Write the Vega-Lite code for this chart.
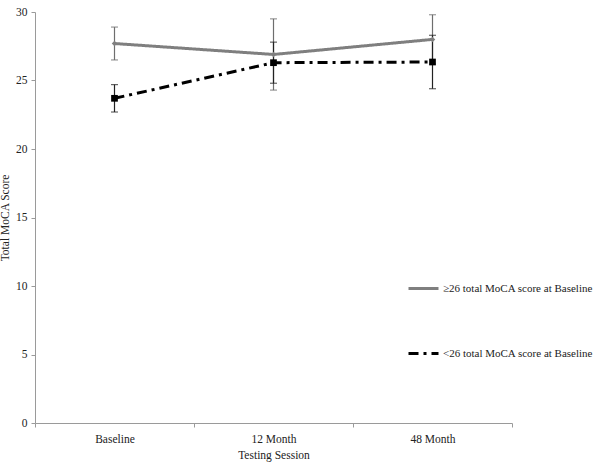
{
  "$schema": "https://vega.github.io/schema/vega-lite/v6.json",
  "width": 477,
  "height": 411,
  "autosize": {"type": "none"},
  "padding": {"left": 35, "top": 12, "right": 88, "bottom": 40},
  "background": "white",
  "config": {
    "view": {"stroke": null},
    "font": "Liberation Serif, serif",
    "axis": {"labelFont": "Liberation Serif, serif", "titleFont": "Liberation Serif, serif", "labelFontSize": 11.5, "titleFontSize": 11.5, "titleFontWeight": "normal", "labelColor": "#222", "titleColor": "#222", "domainColor": "#9a9a9a", "tickColor": "#9a9a9a", "grid": false},
    "legend": {"labelFont": "Liberation Serif, serif", "labelFontSize": 11, "labelColor": "#222"}
  },
  "data": {"values": [
    {"series": "≥26 total MoCA score at Baseline", "session": "Baseline", "mean": 27.7, "lo": 26.5, "hi": 28.9},
    {"series": "≥26 total MoCA score at Baseline", "session": "12 Month", "mean": 26.9, "lo": 24.3, "hi": 29.5},
    {"series": "≥26 total MoCA score at Baseline", "session": "48 Month", "mean": 28.0, "lo": 26.2, "hi": 29.8},
    {"series": "<26 total MoCA score at Baseline", "session": "Baseline", "mean": 23.7, "lo": 22.7, "hi": 24.7},
    {"series": "<26 total MoCA score at Baseline", "session": "12 Month", "mean": 26.3, "lo": 24.8, "hi": 27.8},
    {"series": "<26 total MoCA score at Baseline", "session": "48 Month", "mean": 26.35, "lo": 24.4, "hi": 28.3}
  ]},
  "encoding": {
    "x": {"field": "session", "type": "nominal", "sort": ["Baseline", "12 Month", "48 Month"], "scale": {"paddingInner": 0, "paddingOuter": 0},
      "axis": {"title": "Testing Session", "labelAngle": 0, "tickBand": "extent", "tickSize": 4, "labelPadding": 6, "titlePadding": 5}}
  },
  "layer": [
    {
      "transform": [{"filter": "datum.series === '≥26 total MoCA score at Baseline'"}],
      "layer": [
        {"mark": {"type": "rule", "strokeWidth": 1.2, "color": "#6e6e6e"}, "encoding": {"y": {"field": "lo", "type": "quantitative"}, "y2": {"field": "hi"}}},
        {"mark": {"type": "tick", "orient": "horizontal", "size": 7, "thickness": 1.2, "color": "#6e6e6e"}, "encoding": {"y": {"field": "lo", "type": "quantitative"}}},
        {"mark": {"type": "tick", "orient": "horizontal", "size": 7, "thickness": 1.2, "color": "#6e6e6e"}, "encoding": {"y": {"field": "hi", "type": "quantitative"}}}
      ]
    },
    {
      "transform": [{"filter": "datum.series === '<26 total MoCA score at Baseline'"}],
      "layer": [
        {"mark": {"type": "rule", "strokeWidth": 1.2, "color": "#222222"}, "encoding": {"y": {"field": "lo", "type": "quantitative"}, "y2": {"field": "hi"}}},
        {"mark": {"type": "tick", "orient": "horizontal", "size": 7, "thickness": 1.2, "color": "#222222"}, "encoding": {"y": {"field": "lo", "type": "quantitative"}}},
        {"mark": {"type": "tick", "orient": "horizontal", "size": 7, "thickness": 1.2, "color": "#222222"}, "encoding": {"y": {"field": "hi", "type": "quantitative"}}}
      ]
    },
    {
      "mark": {"type": "line", "strokeWidth": 3},
      "encoding": {
        "y": {"field": "mean", "type": "quantitative", "scale": {"domain": [0, 30]}, "axis": {"title": "Total MoCA Score", "values": [0, 5, 10, 15, 20, 25, 30], "tickSize": 4, "labelPadding": 4, "titlePadding": 5}},
        "color": {"field": "series", "type": "nominal", "scale": {"domain": ["≥26 total MoCA score at Baseline", "<26 total MoCA score at Baseline"], "range": ["#7f7f7f", "#000000"]},
          "legend": {"title": null, "orient": "none", "legendX": 372, "legendY": 260, "symbolType": "stroke", "symbolSize": 900, "symbolStrokeWidth": 3, "rowPadding": 42, "labelOffset": 3, "labelLimit": 300}},
        "strokeDash": {"field": "series", "type": "nominal", "scale": {"domain": ["≥26 total MoCA score at Baseline", "<26 total MoCA score at Baseline"], "range": [[1, 0], [10, 5, 3, 5]]},
          "legend": {"title": null, "orient": "none", "legendX": 372, "legendY": 260, "symbolType": "stroke", "symbolSize": 900, "symbolStrokeWidth": 3, "rowPadding": 42, "labelOffset": 3, "labelLimit": 300}}
      }
    },
    {
      "transform": [{"filter": "datum.series === '≥26 total MoCA score at Baseline'"}],
      "mark": {"type": "point", "filled": true, "opacity": 1, "shape": "diamond", "size": 30, "color": "#7f7f7f"},
      "encoding": {"y": {"field": "mean", "type": "quantitative"}}
    },
    {
      "transform": [{"filter": "datum.series === '<26 total MoCA score at Baseline'"}],
      "mark": {"type": "point", "filled": true, "opacity": 1, "shape": "square", "size": 45, "color": "#000000"},
      "encoding": {"y": {"field": "mean", "type": "quantitative"}}
    }
  ]
}
